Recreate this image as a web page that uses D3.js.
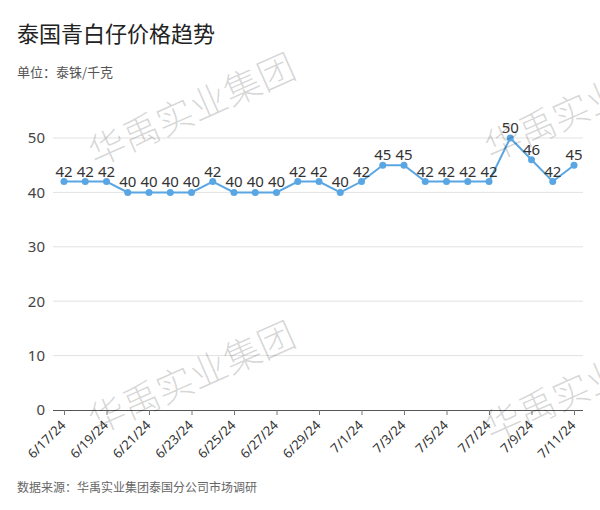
<!DOCTYPE html>
<html>
<head>
<meta charset="utf-8">
<script src="https://cdn.jsdelivr.net/npm/d3@7"></script>
<style>
  body { margin: 0; background: #fff; }
  svg text { font-family: "Noto Sans CJK SC", "Noto Sans", sans-serif; }
</style>
</head>
<body>
<div id="chart"></div>
<script>
// Data
var dates = ['6/17/24','6/18/24','6/19/24','6/20/24','6/21/24','6/22/24','6/23/24','6/24/24','6/25/24',
             '6/26/24','6/27/24','6/28/24','6/29/24','6/30/24','7/1/24','7/2/24','7/3/24','7/4/24',
             '7/5/24','7/6/24','7/7/24','7/8/24','7/9/24','7/10/24','7/11/24'];
var prices = [42,42,42,40,40,40,40,42,40,40,40,42,42,40,42,45,45,42,42,42,42,50,46,42,45];
var yTickValues = [0,10,20,30,40,50];

var width = 600, height = 510,
    lineColor = '#5aa6e3',
    watermarkText = '华禹实业集团';

var svg = d3.select('#chart').append('svg')
    .attr('width', width)
    .attr('height', height);

// Scales
var x = d3.scalePoint().domain(dates).range([64, 574]);
var y = d3.scaleLinear().domain([0, 50]).range([410, 138]);

// Title & notes
svg.append('text').attr('x', 17).attr('y', 42)
    .style('font-size', '22px').style('fill', '#222')
    .text('泰国青白仔价格趋势');
svg.append('text').attr('x', 17).attr('y', 77)
    .style('font-size', '13px').style('fill', '#555')
    .text('单位：泰铢/千克');
svg.append('text').attr('x', 17).attr('y', 492)
    .style('font-size', '12px').style('fill', '#666')
    .text('数据来源：华禹实业集团泰国分公司市场调研');

// Grid lines
svg.append('g').selectAll('line')
    .data(yTickValues.filter(function (d) { return d > 0; }))
    .enter().append('line')
    .attr('x1', 53).attr('x2', 583)
    .attr('y1', function (d) { return y(d); })
    .attr('y2', function (d) { return y(d); })
    .style('stroke', '#e2e2e2');

// Y axis labels (no line)
var yAxis = d3.axisLeft(y).tickValues(yTickValues).tickSize(0).tickPadding(0);
var gy = svg.append('g').attr('transform', 'translate(45,0)').call(yAxis);
gy.select('.domain').remove();
gy.selectAll('text').style('font-size', '15px').style('fill', '#444')
    .style('font-family', '"Noto Sans", sans-serif');

// X axis
var xAxis = d3.axisBottom(x)
    .tickValues(dates.filter(function (d, i) { return i % 2 === 0; }))
    .tickSize(5).tickSizeOuter(0);
var gx = svg.append('g').attr('transform', 'translate(0,410)').call(xAxis);
gx.select('.domain').attr('d', 'M53,0.5H583').style('stroke', '#555');
gx.selectAll('.tick line').style('stroke', '#777');
gx.selectAll('text')
    .style('font-size', '13px').style('fill', '#333')
    .style('font-family', '"Noto Sans", sans-serif')
    .style('text-anchor', 'end')
    .attr('x', 0).attr('y', 0).attr('dy', 0)
    .attr('transform', 'translate(2,16) rotate(-45)');

// Line
var line = d3.line()
    .x(function (d, i) { return x(dates[i]); })
    .y(function (d) { return y(d); });
svg.append('path').datum(prices)
    .attr('d', line)
    .style('fill', 'none')
    .style('stroke', lineColor)
    .style('stroke-width', 2);

svg.append('g').selectAll('circle')
    .data(prices).enter().append('circle')
    .attr('cx', function (d, i) { return x(dates[i]); })
    .attr('cy', function (d) { return y(d); })
    .attr('r', 3.5)
    .style('fill', lineColor);

// Value labels
svg.append('g').selectAll('text')
    .data(prices).enter().append('text')
    .attr('x', function (d, i) { return x(dates[i]); })
    .attr('y', function (d) { return y(d) - 5; })
    .attr('text-anchor', 'middle')
    .style('font-size', '15px').style('fill', '#333')
    .style('font-family', '"Noto Sans", sans-serif')
    .text(function (d) { return d; });

// Watermarks
var marks = [[192, 110], [192, 378], [588, 105], [588, 385]];
svg.append('g').selectAll('text')
    .data(marks).enter().append('text')
    .attr('transform', function (d) { return 'translate(' + d[0] + ',' + d[1] + ') rotate(-24)'; })
    .attr('text-anchor', 'middle')
    .attr('dy', '0.35em')
    .style('font-size', '37px')
    .style('font-weight', 300)
    .style('fill', 'rgba(0,0,0,0.16)')
    .text(watermarkText);
</script>
</body>
</html>
